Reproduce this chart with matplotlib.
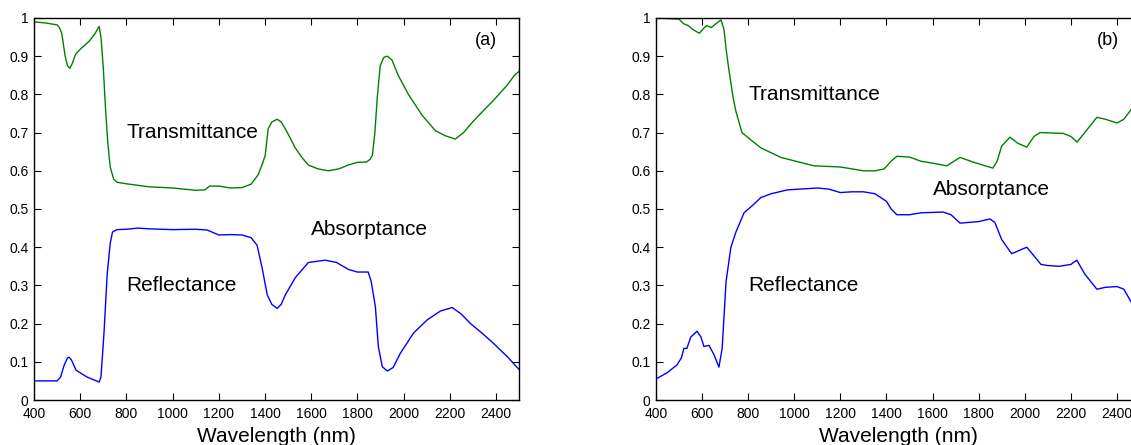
import matplotlib
matplotlib.use("Agg")
import matplotlib.pyplot as plt
from matplotlib.ticker import FuncFormatter

plt.rcParams['font.family'] = ['Liberation Sans', 'DejaVu Sans']

# ---- panel (a) ----
wl_a_t = [400, 450, 500, 510, 520, 535, 545, 555, 565, 580, 600, 640, 665, 682, 690, 700,
          710, 720, 730, 745, 760, 800, 900, 1000, 1100, 1140, 1160, 1200, 1250, 1300,
          1340, 1371, 1390, 1401, 1414, 1430, 1453, 1470, 1488, 1510, 1531, 1560, 1588,
          1630, 1674, 1720, 1760, 1800, 1840, 1855, 1865, 1876, 1886, 1899, 1915, 1930,
          1950, 1977, 2021, 2081, 2138, 2180, 2224, 2260, 2298, 2350, 2398, 2450, 2480,
          2500]
trans_a = [0.99, 0.987, 0.982, 0.975, 0.96, 0.90, 0.875, 0.868, 0.88, 0.905, 0.918, 0.94,
           0.96, 0.978, 0.95, 0.87, 0.76, 0.67, 0.61, 0.578, 0.57, 0.566, 0.558, 0.555,
           0.549, 0.55, 0.56, 0.56, 0.555, 0.556, 0.565, 0.59, 0.62, 0.64, 0.71, 0.728,
           0.735, 0.728, 0.71, 0.685, 0.66, 0.635, 0.615, 0.605, 0.60, 0.605, 0.615,
           0.622, 0.623, 0.63, 0.64, 0.70, 0.79, 0.875, 0.897, 0.90, 0.89, 0.85, 0.80,
           0.745, 0.705, 0.692, 0.683, 0.70, 0.727, 0.76, 0.79, 0.825, 0.85, 0.86]

wl_a_r = [400, 500, 515, 530, 545, 552, 562, 582, 630, 682, 690, 703, 717, 730, 740, 760,
          800, 850, 900, 1000, 1100, 1150, 1200, 1250, 1300, 1340, 1366, 1388, 1410, 1430,
          1453, 1470, 1488, 1531, 1588, 1661, 1710, 1761, 1800, 1847, 1860, 1878, 1891,
          1908, 1930, 1955, 1986, 2043, 2103, 2160, 2211, 2250, 2290, 2340, 2390, 2450,
          2500]
refl_a = [0.05, 0.05, 0.06, 0.09, 0.11, 0.112, 0.105, 0.078, 0.06, 0.047, 0.06, 0.175,
          0.33, 0.41, 0.44, 0.446, 0.447, 0.45, 0.448, 0.446, 0.447, 0.445, 0.432,
          0.433, 0.432, 0.425, 0.405, 0.345, 0.275, 0.25, 0.24, 0.25, 0.275, 0.32, 0.36,
          0.366, 0.36, 0.342, 0.335, 0.335, 0.31, 0.245, 0.14, 0.087, 0.076, 0.085, 0.122,
          0.175, 0.21, 0.233, 0.242, 0.225, 0.20, 0.175, 0.148, 0.113, 0.08]

# ---- panel (b) ----
wl_b_t = [400, 500, 520, 540, 560, 588, 610, 620, 640, 660, 682, 695, 704, 715, 725, 735,
          747, 773, 803, 855, 942, 1085, 1200, 1300, 1350, 1390, 1420, 1445, 1500, 1550,
          1600, 1662, 1719, 1780, 1862, 1880, 1900, 1936, 1970, 2009, 2040, 2066, 2166,
          2200, 2227, 2260, 2313, 2350, 2400, 2430, 2461, 2500]
trans_b = [1.0, 0.997, 0.985, 0.98, 0.97, 0.96, 0.975, 0.98, 0.975, 0.985, 0.995, 0.97,
           0.92, 0.87, 0.83, 0.79, 0.755, 0.70, 0.685, 0.66, 0.635, 0.613, 0.61, 0.60,
           0.60, 0.605, 0.625, 0.638, 0.636, 0.625, 0.62, 0.613, 0.635, 0.622, 0.607,
           0.625, 0.665, 0.688, 0.672, 0.662, 0.69, 0.70, 0.698, 0.69, 0.675, 0.70, 0.74,
           0.735, 0.725, 0.735, 0.76, 0.78]

wl_b_r = [400, 450, 491, 510, 521, 534, 551, 578, 595, 608, 630, 652, 673, 687, 704, 725,
          747, 782, 820, 855, 900, 970, 1100, 1150, 1200, 1250, 1300, 1350, 1400, 1420,
          1445, 1500, 1550, 1645, 1680, 1719, 1800, 1849, 1870, 1900, 1943, 1970, 2009,
          2050, 2070, 2100, 2150, 2200, 2226, 2260, 2313, 2350, 2400, 2430, 2461, 2500]
refl_b = [0.055, 0.072, 0.092, 0.11, 0.135, 0.135, 0.165, 0.18, 0.165, 0.14, 0.143,
          0.118, 0.086, 0.135, 0.31, 0.40, 0.44, 0.49, 0.51, 0.53, 0.54, 0.55, 0.555,
          0.552, 0.543, 0.545, 0.545, 0.54, 0.52, 0.50, 0.485, 0.485, 0.49, 0.492, 0.485,
          0.463, 0.467, 0.474, 0.465, 0.42, 0.383, 0.39, 0.40, 0.37, 0.355, 0.352, 0.35,
          0.355, 0.366, 0.33, 0.29, 0.295, 0.297, 0.29, 0.257, 0.23]

yticks = [0, 0.1, 0.2, 0.3, 0.4, 0.5, 0.6, 0.7, 0.8, 0.9, 1]
xticks = [400, 600, 800, 1000, 1200, 1400, 1600, 1800, 2000, 2200, 2400]

green = (0, 0.5, 0)
blue = (0, 0, 1)

fig = plt.figure(figsize=(11.31, 4.45), dpi=100)
W, H = 1131, 445


def make_axes(left_px, right_px, top_px=18, bottom_px=400):
    return fig.add_axes([left_px / W, 1 - bottom_px / H,
                         (right_px - left_px) / W, (bottom_px - top_px) / H])


def style(ax):
    ax.set_xlim(400, 2500)
    ax.set_ylim(0, 1)
    ax.set_xticks(xticks)
    ax.set_yticks(yticks)
    ax.yaxis.set_major_formatter(FuncFormatter(lambda v, p: "%g" % v))
    ax.tick_params(direction="in", length=5, width=0.8, top=True, right=True,
                   labelsize=10, colors="black")
    ax.tick_params(axis="x", pad=5)
    ax.tick_params(axis="y", pad=4)
    for s in ax.spines.values():
        s.set_linewidth(1.0)
    ax.set_xlabel("Wavelength (nm)", fontsize=15, labelpad=4)


ax1 = make_axes(34, 519)
ax1.plot(wl_a_t, trans_a, color=green, lw=1)
ax1.plot(wl_a_r, refl_a, color=blue, lw=1)
style(ax1)
ax1.text(800, 0.70, "Transmittance", fontsize=15, va="center")
ax1.text(800, 0.30, "Reflectance", fontsize=15, va="center")
ax1.text(1600, 0.447, "Absorptance", fontsize=15, va="center")
ax1.text(2355, 0.94, "(a)", fontsize=13, ha="center", va="center")

ax2 = make_axes(656, 1140)
ax2.plot(wl_b_t, trans_b, color=green, lw=1)
ax2.plot(wl_b_r, refl_b, color=blue, lw=1)
style(ax2)
ax2.text(800, 0.80, "Transmittance", fontsize=15, va="center")
ax2.text(800, 0.30, "Reflectance", fontsize=15, va="center")
ax2.text(1602, 0.55, "Absorptance", fontsize=15, va="center")
ax2.text(2361, 0.94, "(b)", fontsize=13, ha="center", va="center")

fig.savefig("out.png", dpi=100)
